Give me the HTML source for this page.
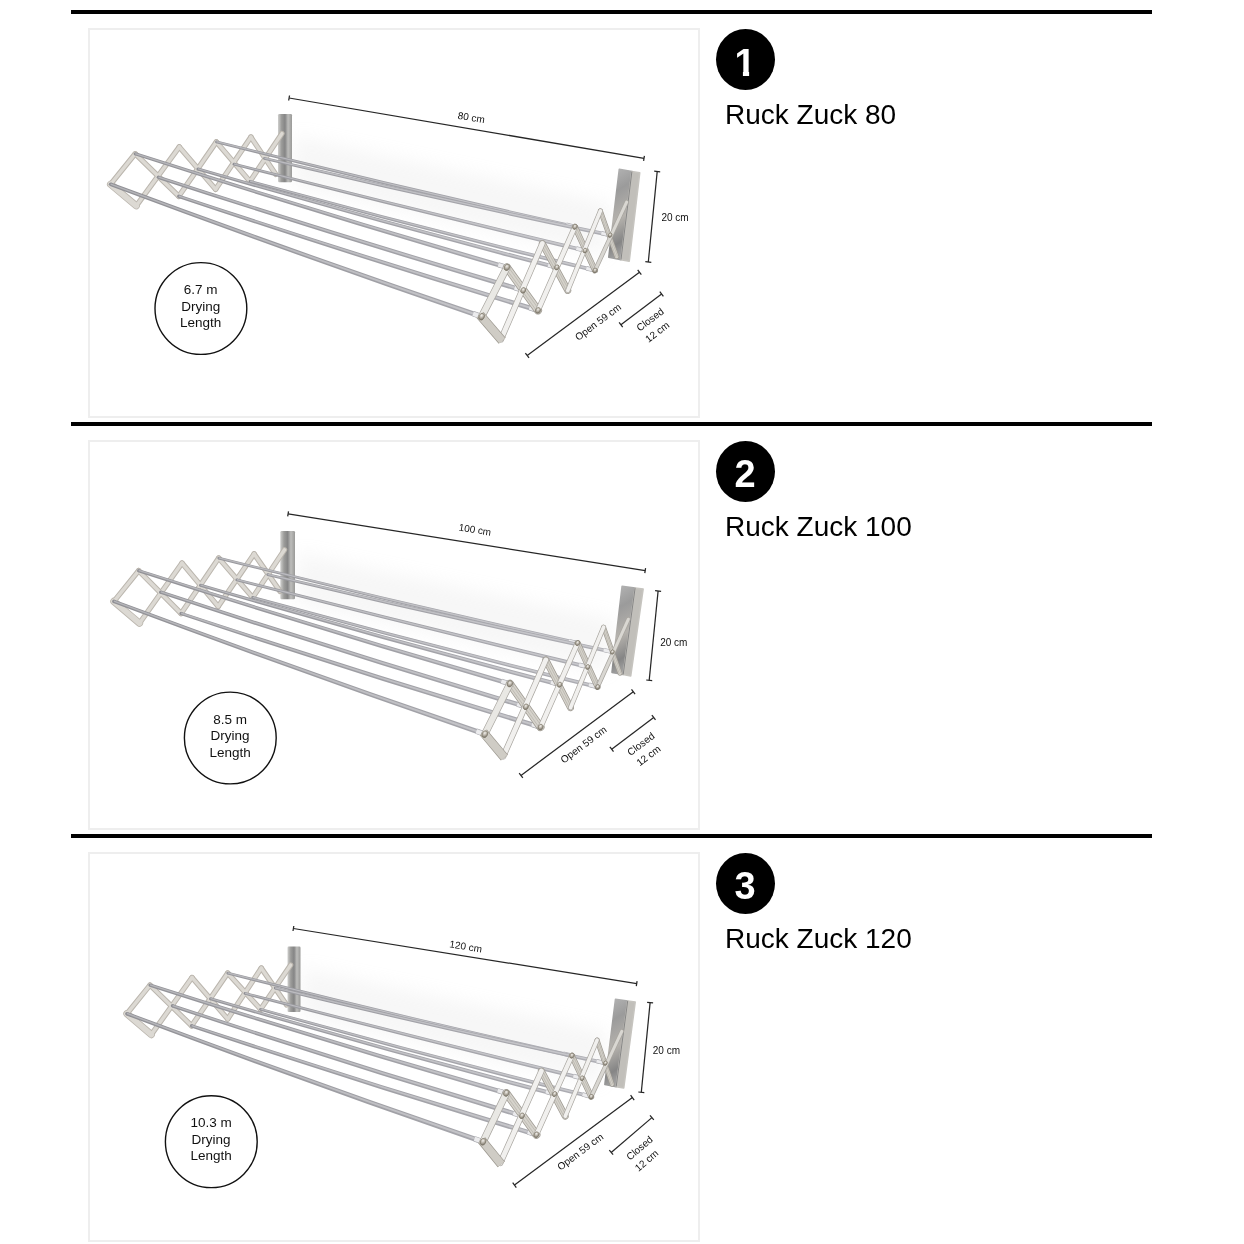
<!DOCTYPE html>
<html><head><meta charset="utf-8">
<style>
html,body{margin:0;padding:0;background:#fff;}
body{width:1244px;height:1244px;position:relative;overflow:hidden;font-family:"Liberation Sans",sans-serif;color:#000;}
.hr{position:absolute;left:71px;width:1081px;height:4px;background:#000;}
.box{position:absolute;left:88px;width:608px;height:386px;border:2px solid #eee;background:#fff;}
.num{position:absolute;left:715px;width:60px;height:62px;color:#fff;font-size:38px;font-weight:bold;line-height:66px;text-align:center;}
.num::before{content:"";position:absolute;left:0.6px;top:0.2px;width:59px;height:60.8px;border-radius:50%;background:#000;z-index:-1;}
.one{display:inline-block;position:relative;top:0.7px;clip-path:polygon(0 0,100% 0,100% 40.6px,14.7px 40.6px,14.7px 100%,8.5px 100%,8.5px 40.6px,0 40.6px);}
.ttl{position:absolute;left:725px;font-size:28px;line-height:30px;white-space:nowrap;}
svg{position:absolute;left:0;top:0;will-change:transform;}
.ttl,.num{will-change:transform;}
</style></head><body>
<div class="hr" style="top:10px"></div>
<div class="hr" style="top:422px"></div>
<div class="hr" style="top:834px"></div>
<div class="box" style="top:28px"></div>
<div class="box" style="top:440px"></div>
<div class="box" style="top:852px"></div>
<svg width="1244" height="1244" viewBox="0 0 1244 1244">
<defs>
<filter id="blur" x="-20%" y="-50%" width="140%" height="200%"><feGaussianBlur stdDeviation="9"/></filter>
<linearGradient id="lbg" x1="0" y1="0" x2="1" y2="0"><stop offset="0" stop-color="#cfcfcd"/><stop offset="0.25" stop-color="#9c9c9a"/><stop offset="0.5" stop-color="#858585"/><stop offset="0.72" stop-color="#bdbdbb"/><stop offset="1" stop-color="#9a9a98"/></linearGradient>
<linearGradient id="rbg" x1="0" y1="0" x2="0.15" y2="1"><stop offset="0" stop-color="#b6b6b6"/><stop offset="0.28" stop-color="#9b9b9b"/><stop offset="0.6" stop-color="#b5b2ad"/><stop offset="0.86" stop-color="#858585"/><stop offset="1" stop-color="#a0a0a0"/></linearGradient>
<radialGradient id="riv" cx="0.4" cy="0.35" r="0.7"><stop offset="0" stop-color="#f2f0ec"/><stop offset="0.55" stop-color="#b0aa9f"/><stop offset="1" stop-color="#6f6a60"/></radialGradient>
<linearGradient id="rod1" gradientUnits="userSpaceOnUse" x1="110" y1="0" x2="600" y2="0"><stop offset="0" stop-color="#909095"/><stop offset="1" stop-color="#adadb3"/></linearGradient>
<linearGradient id="rodh1" gradientUnits="userSpaceOnUse" x1="110" y1="0" x2="600" y2="0"><stop offset="0" stop-color="#b4b4b8"/><stop offset="1" stop-color="#c9c9cd"/></linearGradient>
</defs>
<g id="rack1">
<polygon points="294,136 612,204 604,256 294,186" fill="#cfcfcf" filter="url(#blur)" opacity="0.17"/>
<rect x="278" y="114" width="14" height="68.2" rx="1.2" fill="url(#lbg)"/>
<line x1="135.2" y1="153.8" x2="110.6" y2="184.3" stroke="#bbb6ae" stroke-width="5.4" stroke-linecap="round" />
<line x1="110.6" y1="184.3" x2="136.3" y2="205.8" stroke="#bbb6ae" stroke-width="7.2" stroke-linecap="round" />
<line x1="136.3" y1="205.8" x2="179.3" y2="146.9" stroke="#bbb6ae" stroke-width="5.4" stroke-linecap="round" />
<line x1="135.2" y1="153.8" x2="178.8" y2="196.3" stroke="#bbb6ae" stroke-width="5.4" stroke-linecap="round" />
<line x1="178.8" y1="196.3" x2="216.4" y2="141.9" stroke="#bbb6ae" stroke-width="5.4" stroke-linecap="round" />
<line x1="179.3" y1="146.9" x2="215.6" y2="189.3" stroke="#bbb6ae" stroke-width="5.4" stroke-linecap="round" />
<line x1="215.6" y1="189.3" x2="250.9" y2="137.1" stroke="#bbb6ae" stroke-width="5.4" stroke-linecap="round" />
<line x1="216.4" y1="141.9" x2="250" y2="181.4" stroke="#bbb6ae" stroke-width="5.4" stroke-linecap="round" />
<line x1="250" y1="181.4" x2="281.9" y2="133.6" stroke="#bbb6ae" stroke-width="5.4" stroke-linecap="round" />
<line x1="250.9" y1="137.1" x2="275.7" y2="174.3" stroke="#bbb6ae" stroke-width="5.4" stroke-linecap="round" />
<line x1="135.2" y1="153.8" x2="110.6" y2="184.3" stroke="#dcd9d3" stroke-width="3.4" stroke-linecap="round" />
<line x1="110.6" y1="184.3" x2="136.3" y2="205.8" stroke="#dcd9d3" stroke-width="5.6" stroke-linecap="round" />
<line x1="136.3" y1="205.8" x2="179.3" y2="146.9" stroke="#dcd9d3" stroke-width="3.4" stroke-linecap="round" />
<line x1="135.2" y1="153.8" x2="178.8" y2="196.3" stroke="#dcd9d3" stroke-width="3.4" stroke-linecap="round" />
<line x1="178.8" y1="196.3" x2="216.4" y2="141.9" stroke="#dcd9d3" stroke-width="3.4" stroke-linecap="round" />
<line x1="179.3" y1="146.9" x2="215.6" y2="189.3" stroke="#dcd9d3" stroke-width="3.4" stroke-linecap="round" />
<line x1="215.6" y1="189.3" x2="250.9" y2="137.1" stroke="#dcd9d3" stroke-width="3.4" stroke-linecap="round" />
<line x1="216.4" y1="141.9" x2="250" y2="181.4" stroke="#dcd9d3" stroke-width="3.4" stroke-linecap="round" />
<line x1="250" y1="181.4" x2="281.9" y2="133.6" stroke="#dcd9d3" stroke-width="3.4" stroke-linecap="round" />
<line x1="250.9" y1="137.1" x2="275.7" y2="174.3" stroke="#dcd9d3" stroke-width="3.4" stroke-linecap="round" />
<polygon points="619.3,169.3 631.9,171.5 621,259.6 608.8,257.2" fill="url(#rbg)" stroke="url(#rbg)" stroke-width="1.6" stroke-linejoin="round"/>
<polygon points="631.9,171.5 639.7,172.8 629.2,261.2 621,259.6" fill="#c1bfba" stroke="#c6c4bf" stroke-width="1.6" stroke-linejoin="round"/>
<line x1="631.9" y1="171.5" x2="621" y2="259.6" stroke="#7f7f7f" stroke-width="0.9" stroke-linecap="butt" />
<circle cx="216.4" cy="141.9" r="1.3" fill="#8f8f94"/>
<path d="M216.7 140.6Q396 185.2 575.3 225L574.5 228.6Q395.3 188.3 216.1 143.2Z" fill="url(#rod1)"/>
<path d="M216.6 141.1Q395.9 185.9 575.1 225.8L574.8 227.3Q395.6 187.1 216.3 142.2Z" fill="url(#rodh1)"/>
<line x1="566.1" y1="224.7" x2="574.9" y2="226.8" stroke="#b4b4b8" stroke-width="4.3" stroke-linecap="butt" />
<line x1="566.1" y1="224.7" x2="574.9" y2="226.8" stroke="#ececee" stroke-width="2.9000000000000004" stroke-linecap="butt" />
<circle cx="264.4" cy="158.4" r="1.3" fill="#8f8f94"/>
<path d="M264.7 157.1Q437.6 197.6 610.5 233.3L609.7 236.9Q436.9 200.7 264.1 159.7Z" fill="url(#rod1)"/>
<path d="M264.6 157.6Q437.4 198.3 610.3 234.1L610 235.6Q437.2 199.5 264.3 158.7Z" fill="url(#rodh1)"/>
<line x1="601.3" y1="233.2" x2="610.1" y2="235.1" stroke="#b4b4b8" stroke-width="4.3" stroke-linecap="butt" />
<line x1="601.3" y1="233.2" x2="610.1" y2="235.1" stroke="#ececee" stroke-width="2.9000000000000004" stroke-linecap="butt" />
<circle cx="234" cy="164.2" r="1.4" fill="#8f8f94"/>
<path d="M234.3 162.8Q409.9 207.2 585.5 248.7L584.5 252.5Q409.1 210.4 233.7 165.6Z" fill="url(#rod1)"/>
<path d="M234.2 163.4Q409.7 207.9 585.3 249.6L584.9 251.2Q409.4 209.2 233.9 164.5Z" fill="url(#rodh1)"/>
<line x1="576.3" y1="248.4" x2="585" y2="250.6" stroke="#b4b4b8" stroke-width="4.5" stroke-linecap="butt" />
<line x1="576.3" y1="248.4" x2="585" y2="250.6" stroke="#ececee" stroke-width="3.0999999999999996" stroke-linecap="butt" />
<circle cx="250" cy="181.4" r="1.4" fill="#8f8f94"/>
<path d="M250.4 180Q422.9 227.1 595.5 268.5L594.5 272.3Q422.1 230.3 249.6 182.8Z" fill="url(#rod1)"/>
<path d="M250.2 180.6Q422.7 227.8 595.3 269.4L594.9 271Q422.4 229.1 249.9 181.7Z" fill="url(#rodh1)"/>
<line x1="586.3" y1="268.2" x2="595" y2="270.4" stroke="#b4b4b8" stroke-width="4.5" stroke-linecap="butt" />
<line x1="586.3" y1="268.2" x2="595" y2="270.4" stroke="#ececee" stroke-width="3.0999999999999996" stroke-linecap="butt" />
<circle cx="197.9" cy="169" r="1.5" fill="#8f8f94"/>
<path d="M198.3 167.5Q377.8 219.3 557.4 265.4L556.2 269.4Q376.9 222.7 197.5 170.5Z" fill="url(#rod1)"/>
<path d="M198.1 168.2Q377.6 220 557.1 266.3L556.6 268Q377.2 221.5 197.8 169.3Z" fill="url(#rodh1)"/>
<line x1="548.1" y1="265" x2="556.8" y2="267.4" stroke="#b4b4b8" stroke-width="4.8" stroke-linecap="butt" />
<line x1="548.1" y1="265" x2="556.8" y2="267.4" stroke="#ececee" stroke-width="3.4000000000000004" stroke-linecap="butt" />
<circle cx="135.2" cy="153.8" r="1.6" fill="#8f8f94"/>
<path d="M135.7 152.3Q321.6 211.5 507.6 265.2L506.2 269.6Q320.5 215.3 134.7 155.3Z" fill="url(#rod1)"/>
<path d="M135.5 152.9Q321.4 212.4 507.2 266.3L506.7 268.1Q320.9 213.9 135.1 154.2Z" fill="url(#rodh1)"/>
<line x1="498.3" y1="264.8" x2="506.9" y2="267.4" stroke="#b4b4b8" stroke-width="5.1" stroke-linecap="butt" />
<line x1="498.3" y1="264.8" x2="506.9" y2="267.4" stroke="#ececee" stroke-width="3.7" stroke-linecap="butt" />
<circle cx="158.4" cy="177.3" r="1.7" fill="#8f8f94"/>
<path d="M158.9 175.7Q341.4 234.7 523.9 288.2L522.5 292.6Q340.2 238.6 157.9 178.9Z" fill="url(#rod1)"/>
<path d="M158.7 176.4Q341.1 235.6 523.6 289.2L523 291.1Q340.6 237.2 158.3 177.7Z" fill="url(#rodh1)"/>
<line x1="514.6" y1="287.7" x2="523.2" y2="290.4" stroke="#b4b4b8" stroke-width="5.3" stroke-linecap="butt" />
<line x1="514.6" y1="287.7" x2="523.2" y2="290.4" stroke="#ececee" stroke-width="3.9000000000000004" stroke-linecap="butt" />
<circle cx="178.8" cy="196.3" r="1.7" fill="#8f8f94"/>
<path d="M179.3 194.7Q359 254.2 538.7 308.1L537.3 312.7Q357.8 258.1 178.3 197.9Z" fill="url(#rod1)"/>
<path d="M179.1 195.4Q358.7 255.1 538.4 309.2L537.8 311.1Q358.2 256.7 178.7 196.7Z" fill="url(#rodh1)"/>
<line x1="529.4" y1="307.7" x2="538" y2="310.4" stroke="#b4b4b8" stroke-width="5.3999999999999995" stroke-linecap="butt" />
<line x1="529.4" y1="307.7" x2="538" y2="310.4" stroke="#ececee" stroke-width="4.0" stroke-linecap="butt" />
<circle cx="110.6" cy="184.3" r="1.8" fill="#8f8f94"/>
<path d="M111.2 182.6Q296.8 251.3 482.4 314.3L480.8 319.1Q295.4 255.3 110 186Z" fill="url(#rod1)"/>
<path d="M110.9 183.4Q296.5 252.2 482 315.5L481.3 317.5Q295.9 253.9 110.4 184.7Z" fill="url(#rodh1)"/>
<line x1="473.1" y1="313.7" x2="481.6" y2="316.7" stroke="#b4b4b8" stroke-width="5.6" stroke-linecap="butt" />
<line x1="473.1" y1="313.7" x2="481.6" y2="316.7" stroke="#ececee" stroke-width="4.2" stroke-linecap="butt" />
<line x1="506.9" y1="267.4" x2="538" y2="310.4" stroke="#9f9b93" stroke-width="8.0" stroke-linecap="round" />
<line x1="506.9" y1="267.4" x2="538" y2="310.4" stroke="#d6d3cc" stroke-width="6.5" stroke-linecap="round" />
<line x1="505.8" y1="268.2" x2="536.9" y2="311.2" stroke="#b5b1a9" stroke-width="0.7" stroke-linecap="round" />
<line x1="508" y1="266.6" x2="539.1" y2="309.6" stroke="#b5b1a9" stroke-width="0.7" stroke-linecap="round" />
<line x1="542.3" y1="243.5" x2="567.8" y2="290.5" stroke="#9f9b93" stroke-width="6.9" stroke-linecap="round" />
<line x1="542.3" y1="243.5" x2="567.8" y2="290.5" stroke="#d6d3cc" stroke-width="5.4" stroke-linecap="round" />
<line x1="541.3" y1="244.1" x2="566.8" y2="291.1" stroke="#b5b1a9" stroke-width="0.7" stroke-linecap="round" />
<line x1="543.3" y1="242.9" x2="568.8" y2="289.9" stroke="#b5b1a9" stroke-width="0.7" stroke-linecap="round" />
<line x1="574.9" y1="226.8" x2="595" y2="270.4" stroke="#9f9b93" stroke-width="6.0" stroke-linecap="round" />
<line x1="574.9" y1="226.8" x2="595" y2="270.4" stroke="#d6d3cc" stroke-width="4.5" stroke-linecap="round" />
<line x1="574" y1="227.2" x2="594.1" y2="270.8" stroke="#b5b1a9" stroke-width="0.7" stroke-linecap="round" />
<line x1="575.8" y1="226.4" x2="595.9" y2="270" stroke="#b5b1a9" stroke-width="0.7" stroke-linecap="round" />
<line x1="600.4" y1="210.9" x2="616.7" y2="256.6" stroke="#9f9b93" stroke-width="4.9" stroke-linecap="round" />
<line x1="600.4" y1="210.9" x2="616.7" y2="256.6" stroke="#d6d3cc" stroke-width="3.4000000000000004" stroke-linecap="round" />
<line x1="599.6" y1="211.2" x2="615.9" y2="256.9" stroke="#b5b1a9" stroke-width="0.7" stroke-linecap="round" />
<line x1="601.2" y1="210.6" x2="617.5" y2="256.3" stroke="#b5b1a9" stroke-width="0.7" stroke-linecap="round" />
<line x1="501" y1="339.4" x2="542.3" y2="243.5" stroke="#a9a6a0" stroke-width="6.2" stroke-linecap="round" />
<line x1="501" y1="339.4" x2="542.3" y2="243.5" stroke="#f1f0ee" stroke-width="4.800000000000001" stroke-linecap="round" />
<line x1="538" y1="310.4" x2="574.9" y2="226.8" stroke="#a9a6a0" stroke-width="5.7" stroke-linecap="round" />
<line x1="538" y1="310.4" x2="574.9" y2="226.8" stroke="#f1f0ee" stroke-width="4.300000000000001" stroke-linecap="round" />
<line x1="567.8" y1="290.5" x2="600.4" y2="210.9" stroke="#a9a6a0" stroke-width="5.0" stroke-linecap="round" />
<line x1="567.8" y1="290.5" x2="600.4" y2="210.9" stroke="#f1f0ee" stroke-width="3.6" stroke-linecap="round" />
<line x1="595" y1="270.4" x2="626.6" y2="202.1" stroke="#a9a6a0" stroke-width="4.4" stroke-linecap="round" />
<line x1="595" y1="270.4" x2="626.6" y2="202.1" stroke="#d9d7d2" stroke-width="3.0000000000000004" stroke-linecap="round" />
<line x1="481.6" y1="316.7" x2="506.9" y2="267.4" stroke="#a9a6a0" stroke-width="7.4" stroke-linecap="round" />
<line x1="481.6" y1="316.7" x2="506.9" y2="267.4" stroke="#e9e8e4" stroke-width="6.0" stroke-linecap="round" />
<line x1="480" y1="314.9" x2="502.2" y2="340.8" stroke="#9a968d" stroke-width="9.2" stroke-linecap="butt" />
<line x1="480" y1="314.9" x2="502.2" y2="340.8" stroke="#cfccc5" stroke-width="7.8" stroke-linecap="butt" />
<ellipse cx="481.6" cy="316.7" rx="2.7" ry="3.5" transform="rotate(28 481.6 316.7)" fill="url(#riv)" stroke="#7d7668" stroke-width="0.6"/>
<ellipse cx="506.9" cy="267.4" rx="2.6" ry="3.3" transform="rotate(28 506.9 267.4)" fill="url(#riv)" stroke="#7d7668" stroke-width="0.6"/>
<ellipse cx="523.2" cy="290.4" rx="2.3" ry="3" transform="rotate(28 523.2 290.4)" fill="url(#riv)" stroke="#7d7668" stroke-width="0.6"/>
<ellipse cx="538" cy="310.4" rx="2.3" ry="3" transform="rotate(28 538 310.4)" fill="url(#riv)" stroke="#7d7668" stroke-width="0.6"/>
<ellipse cx="556.8" cy="267.4" rx="2.1" ry="2.7" transform="rotate(28 556.8 267.4)" fill="url(#riv)" stroke="#7d7668" stroke-width="0.6"/>
<ellipse cx="574.9" cy="226.8" rx="2.1" ry="2.7" transform="rotate(28 574.9 226.8)" fill="url(#riv)" stroke="#7d7668" stroke-width="0.6"/>
<ellipse cx="585" cy="250.6" rx="2" ry="2.5" transform="rotate(28 585 250.6)" fill="url(#riv)" stroke="#7d7668" stroke-width="0.6"/>
<ellipse cx="595" cy="270.4" rx="2" ry="2.5" transform="rotate(28 595 270.4)" fill="url(#riv)" stroke="#7d7668" stroke-width="0.6"/>
<ellipse cx="610.1" cy="235.1" rx="1.8" ry="2.3" transform="rotate(28 610.1 235.1)" fill="url(#riv)" stroke="#7d7668" stroke-width="0.6"/>
<g font-family="Liberation Sans, sans-serif" fill="#111">
<line x1="289.1" y1="98" x2="644" y2="158.4" stroke="#262626" stroke-width="1.25" stroke-linecap="butt" /><line x1="289.5" y1="95.5" x2="288.7" y2="100.5" stroke="#262626" stroke-width="1.25" stroke-linecap="butt" /><line x1="644.4" y1="155.9" x2="643.6" y2="160.9" stroke="#262626" stroke-width="1.25" stroke-linecap="butt" />
<text x="471.3" y="117.5" font-size="10" text-anchor="middle" dominant-baseline="central" transform="rotate(9.7 471.3 117.5)" >80 cm</text>
<line x1="657.2" y1="171.5" x2="648.3" y2="262" stroke="#262626" stroke-width="1.25" stroke-linecap="butt" /><line x1="660.2" y1="171.8" x2="654.2" y2="171.2" stroke="#262626" stroke-width="1.25" stroke-linecap="butt" /><line x1="651.3" y1="262.3" x2="645.3" y2="261.7" stroke="#262626" stroke-width="1.25" stroke-linecap="butt" />
<text x="675" y="217" font-size="10" text-anchor="middle" dominant-baseline="central" transform="rotate(0 675 217)" >20 cm</text>
<line x1="639.5" y1="272.3" x2="527.2" y2="355.4" stroke="#262626" stroke-width="1.25" stroke-linecap="butt" /><line x1="641.3" y1="274.7" x2="637.7" y2="269.9" stroke="#262626" stroke-width="1.25" stroke-linecap="butt" /><line x1="529" y1="357.8" x2="525.4" y2="353" stroke="#262626" stroke-width="1.25" stroke-linecap="butt" />
<text x="598" y="322" font-size="10" text-anchor="middle" dominant-baseline="central" transform="rotate(-36.5 598 322)" >Open 59 cm</text>
<line x1="661.6" y1="293.9" x2="620.9" y2="324.8" stroke="#262626" stroke-width="1.25" stroke-linecap="butt" /><line x1="663.4" y1="296.3" x2="659.8" y2="291.5" stroke="#262626" stroke-width="1.25" stroke-linecap="butt" /><line x1="622.7" y1="327.2" x2="619.1" y2="322.4" stroke="#262626" stroke-width="1.25" stroke-linecap="butt" />
<text x="650.1" y="319.5" font-size="10" text-anchor="middle" dominant-baseline="central" transform="rotate(-37.2 650.1 319.5)" >Closed</text>
<text x="657.2" y="331.9" font-size="10" text-anchor="middle" dominant-baseline="central" transform="rotate(-37.2 657.2 331.9)" >12 cm</text>
<circle cx="200.9" cy="308.5" r="45.9" fill="#fff" stroke="#111" stroke-width="1.4"/>
<text x="200.7" y="289.5" font-size="13.5" text-anchor="middle" dominant-baseline="central" transform="rotate(0 200.7 289.5)" >6.7 m</text>
<text x="200.7" y="306.1" font-size="13.5" text-anchor="middle" dominant-baseline="central" transform="rotate(0 200.7 306.1)" >Drying</text>
<text x="200.7" y="322.7" font-size="13.5" text-anchor="middle" dominant-baseline="central" transform="rotate(0 200.7 322.7)" >Length</text>
</g>
</g>
<g id="rack2">
<polygon points="297,553 615,620 607,672 297,603" fill="#cfcfcf" filter="url(#blur)" opacity="0.17"/>
<rect x="280.3" y="531" width="14.7" height="68.3" rx="1.2" fill="url(#lbg)"/>
<line x1="138.6" y1="570.7" x2="113.9" y2="601.4" stroke="#bbb6ae" stroke-width="5.4" stroke-linecap="round" />
<line x1="113.9" y1="601.4" x2="139.5" y2="623.2" stroke="#bbb6ae" stroke-width="7.2" stroke-linecap="round" />
<line x1="139.5" y1="623.2" x2="182" y2="563.1" stroke="#bbb6ae" stroke-width="5.4" stroke-linecap="round" />
<line x1="138.6" y1="570.7" x2="181.1" y2="613.5" stroke="#bbb6ae" stroke-width="5.4" stroke-linecap="round" />
<line x1="181.1" y1="613.5" x2="218.7" y2="558.1" stroke="#bbb6ae" stroke-width="5.4" stroke-linecap="round" />
<line x1="182" y1="563.1" x2="218.2" y2="606.4" stroke="#bbb6ae" stroke-width="5.4" stroke-linecap="round" />
<line x1="218.2" y1="606.4" x2="254.1" y2="553.9" stroke="#bbb6ae" stroke-width="5.4" stroke-linecap="round" />
<line x1="218.7" y1="558.1" x2="252.7" y2="597.5" stroke="#bbb6ae" stroke-width="5.4" stroke-linecap="round" />
<line x1="252.7" y1="597.5" x2="284.5" y2="549.8" stroke="#bbb6ae" stroke-width="5.4" stroke-linecap="round" />
<line x1="254.1" y1="553.9" x2="280.1" y2="591.4" stroke="#bbb6ae" stroke-width="5.4" stroke-linecap="round" />
<line x1="138.6" y1="570.7" x2="113.9" y2="601.4" stroke="#dcd9d3" stroke-width="3.4" stroke-linecap="round" />
<line x1="113.9" y1="601.4" x2="139.5" y2="623.2" stroke="#dcd9d3" stroke-width="5.6" stroke-linecap="round" />
<line x1="139.5" y1="623.2" x2="182" y2="563.1" stroke="#dcd9d3" stroke-width="3.4" stroke-linecap="round" />
<line x1="138.6" y1="570.7" x2="181.1" y2="613.5" stroke="#dcd9d3" stroke-width="3.4" stroke-linecap="round" />
<line x1="181.1" y1="613.5" x2="218.7" y2="558.1" stroke="#dcd9d3" stroke-width="3.4" stroke-linecap="round" />
<line x1="182" y1="563.1" x2="218.2" y2="606.4" stroke="#dcd9d3" stroke-width="3.4" stroke-linecap="round" />
<line x1="218.2" y1="606.4" x2="254.1" y2="553.9" stroke="#dcd9d3" stroke-width="3.4" stroke-linecap="round" />
<line x1="218.7" y1="558.1" x2="252.7" y2="597.5" stroke="#dcd9d3" stroke-width="3.4" stroke-linecap="round" />
<line x1="252.7" y1="597.5" x2="284.5" y2="549.8" stroke="#dcd9d3" stroke-width="3.4" stroke-linecap="round" />
<line x1="254.1" y1="553.9" x2="280.1" y2="591.4" stroke="#dcd9d3" stroke-width="3.4" stroke-linecap="round" />
<polygon points="622.1,586.4 635.1,588.1 623.2,674.5 612,672.4" fill="url(#rbg)" stroke="url(#rbg)" stroke-width="1.6" stroke-linejoin="round"/>
<polygon points="635.1,588.1 643.1,589.1 630.7,675.9 623.2,674.5" fill="#c1bfba" stroke="#c6c4bf" stroke-width="1.6" stroke-linejoin="round"/>
<line x1="635.1" y1="588.1" x2="623.2" y2="674.5" stroke="#7f7f7f" stroke-width="0.9" stroke-linecap="butt" />
<circle cx="218.7" cy="558.1" r="1.3" fill="#8f8f94"/>
<path d="M219 556.8Q398.5 601.5 578 641.3L577.2 644.9Q397.8 604.5 218.4 559.4Z" fill="url(#rod1)"/>
<path d="M218.9 557.3Q398.4 602.1 577.8 642.1L577.5 643.6Q398.1 603.4 218.6 558.4Z" fill="url(#rodh1)"/>
<line x1="568.8" y1="641" x2="577.6" y2="643.1" stroke="#b4b4b8" stroke-width="4.3" stroke-linecap="butt" />
<line x1="568.8" y1="641" x2="577.6" y2="643.1" stroke="#ececee" stroke-width="2.9000000000000004" stroke-linecap="butt" />
<circle cx="267.7" cy="574.6" r="1.3" fill="#8f8f94"/>
<path d="M268 573.3Q440.4 614.1 612.8 650.2L612 653.8Q439.7 617.3 267.4 575.9Z" fill="url(#rod1)"/>
<path d="M267.9 573.8Q440.2 614.8 612.6 651L612.3 652.5Q440 616.1 267.6 574.9Z" fill="url(#rodh1)"/>
<line x1="603.6" y1="650" x2="612.4" y2="652" stroke="#b4b4b8" stroke-width="4.3" stroke-linecap="butt" />
<line x1="603.6" y1="650" x2="612.4" y2="652" stroke="#ececee" stroke-width="2.9000000000000004" stroke-linecap="butt" />
<circle cx="236.8" cy="579.9" r="1.4" fill="#8f8f94"/>
<path d="M237.1 578.5Q412.7 623.2 588.2 665.1L587.2 668.9Q411.8 626.5 236.5 581.3Z" fill="url(#rod1)"/>
<path d="M237 579.1Q412.5 623.9 588 666L587.6 667.6Q412.1 625.3 236.7 580.2Z" fill="url(#rodh1)"/>
<line x1="579" y1="664.8" x2="587.7" y2="667" stroke="#b4b4b8" stroke-width="4.5" stroke-linecap="butt" />
<line x1="579" y1="664.8" x2="587.7" y2="667" stroke="#ececee" stroke-width="3.0999999999999996" stroke-linecap="butt" />
<circle cx="252.7" cy="597.5" r="1.4" fill="#8f8f94"/>
<path d="M253.1 596.1Q425.6 643.4 598.1 685.1L597.1 688.9Q424.7 646.7 252.3 598.9Z" fill="url(#rod1)"/>
<path d="M252.9 596.7Q425.4 644.1 597.9 686L597.5 687.6Q425 645.5 252.6 597.8Z" fill="url(#rodh1)"/>
<line x1="588.9" y1="684.7" x2="597.6" y2="687" stroke="#b4b4b8" stroke-width="4.5" stroke-linecap="butt" />
<line x1="588.9" y1="684.7" x2="597.6" y2="687" stroke="#ececee" stroke-width="3.0999999999999996" stroke-linecap="butt" />
<circle cx="200.5" cy="585.2" r="1.5" fill="#8f8f94"/>
<path d="M200.9 583.7Q380.5 636 560.2 682.7L559 686.7Q379.6 639.5 200.1 586.7Z" fill="url(#rod1)"/>
<path d="M200.7 584.4Q380.3 636.8 559.9 683.6L559.4 685.3Q379.9 638.2 200.4 585.5Z" fill="url(#rodh1)"/>
<line x1="550.9" y1="682.3" x2="559.6" y2="684.7" stroke="#b4b4b8" stroke-width="4.8" stroke-linecap="butt" />
<line x1="550.9" y1="682.3" x2="559.6" y2="684.7" stroke="#ececee" stroke-width="3.4000000000000004" stroke-linecap="butt" />
<circle cx="138.6" cy="570.7" r="1.6" fill="#8f8f94"/>
<path d="M139.1 569.2Q324.8 628.2 510.6 681.6L509.2 686Q323.7 631.9 138.1 572.2Z" fill="url(#rod1)"/>
<path d="M138.9 569.8Q324.6 629 510.2 682.7L509.7 684.5Q324.1 630.6 138.5 571.1Z" fill="url(#rodh1)"/>
<line x1="501.3" y1="681.2" x2="509.9" y2="683.8" stroke="#b4b4b8" stroke-width="5.1" stroke-linecap="butt" />
<line x1="501.3" y1="681.2" x2="509.9" y2="683.8" stroke="#ececee" stroke-width="3.7" stroke-linecap="butt" />
<circle cx="160.7" cy="592.2" r="1.7" fill="#8f8f94"/>
<path d="M161.2 590.6Q343.9 650.4 526.5 704.6L525.1 709Q342.6 654.2 160.2 593.8Z" fill="url(#rod1)"/>
<path d="M161 591.3Q343.6 651.3 526.2 705.6L525.6 707.5Q343.1 652.9 160.6 592.6Z" fill="url(#rodh1)"/>
<line x1="517.2" y1="704.1" x2="525.8" y2="706.8" stroke="#b4b4b8" stroke-width="5.3" stroke-linecap="butt" />
<line x1="517.2" y1="704.1" x2="525.8" y2="706.8" stroke="#ececee" stroke-width="3.9000000000000004" stroke-linecap="butt" />
<circle cx="181.1" cy="613.5" r="1.7" fill="#8f8f94"/>
<path d="M181.6 611.9Q361.4 671.1 541.2 724.8L539.8 729.4Q360.2 675.1 180.6 615.1Z" fill="url(#rod1)"/>
<path d="M181.4 612.6Q361.1 672.1 540.9 725.9L540.3 727.8Q360.6 673.7 181 613.9Z" fill="url(#rodh1)"/>
<line x1="531.9" y1="724.4" x2="540.5" y2="727.1" stroke="#b4b4b8" stroke-width="5.3999999999999995" stroke-linecap="butt" />
<line x1="531.9" y1="724.4" x2="540.5" y2="727.1" stroke="#ececee" stroke-width="4.0" stroke-linecap="butt" />
<circle cx="113.9" cy="601.4" r="1.8" fill="#8f8f94"/>
<path d="M114.5 599.7Q300.1 668.6 485.6 731.8L484 736.6Q298.6 672.6 113.3 603.1Z" fill="url(#rod1)"/>
<path d="M114.2 600.5Q299.7 669.5 485.2 733L484.5 735Q299.1 671.2 113.7 601.8Z" fill="url(#rodh1)"/>
<line x1="476.3" y1="731.2" x2="484.8" y2="734.2" stroke="#b4b4b8" stroke-width="5.6" stroke-linecap="butt" />
<line x1="476.3" y1="731.2" x2="484.8" y2="734.2" stroke="#ececee" stroke-width="4.2" stroke-linecap="butt" />
<line x1="509.9" y1="683.8" x2="540.5" y2="727.1" stroke="#9f9b93" stroke-width="8.0" stroke-linecap="round" />
<line x1="509.9" y1="683.8" x2="540.5" y2="727.1" stroke="#d6d3cc" stroke-width="6.5" stroke-linecap="round" />
<line x1="508.8" y1="684.6" x2="539.4" y2="727.9" stroke="#b5b1a9" stroke-width="0.7" stroke-linecap="round" />
<line x1="511" y1="683" x2="541.6" y2="726.3" stroke="#b5b1a9" stroke-width="0.7" stroke-linecap="round" />
<line x1="545.8" y1="659.9" x2="570.5" y2="707.7" stroke="#9f9b93" stroke-width="6.9" stroke-linecap="round" />
<line x1="545.8" y1="659.9" x2="570.5" y2="707.7" stroke="#d6d3cc" stroke-width="5.4" stroke-linecap="round" />
<line x1="544.8" y1="660.4" x2="569.5" y2="708.2" stroke="#b5b1a9" stroke-width="0.7" stroke-linecap="round" />
<line x1="546.8" y1="659.4" x2="571.5" y2="707.2" stroke="#b5b1a9" stroke-width="0.7" stroke-linecap="round" />
<line x1="577.6" y1="643.1" x2="597.6" y2="687" stroke="#9f9b93" stroke-width="6.0" stroke-linecap="round" />
<line x1="577.6" y1="643.1" x2="597.6" y2="687" stroke="#d6d3cc" stroke-width="4.5" stroke-linecap="round" />
<line x1="576.7" y1="643.5" x2="596.7" y2="687.4" stroke="#b5b1a9" stroke-width="0.7" stroke-linecap="round" />
<line x1="578.5" y1="642.7" x2="598.5" y2="686.6" stroke="#b5b1a9" stroke-width="0.7" stroke-linecap="round" />
<line x1="603.6" y1="627.2" x2="620" y2="673.2" stroke="#9f9b93" stroke-width="4.9" stroke-linecap="round" />
<line x1="603.6" y1="627.2" x2="620" y2="673.2" stroke="#d6d3cc" stroke-width="3.4000000000000004" stroke-linecap="round" />
<line x1="602.8" y1="627.5" x2="619.2" y2="673.5" stroke="#b5b1a9" stroke-width="0.7" stroke-linecap="round" />
<line x1="604.4" y1="626.9" x2="620.8" y2="672.9" stroke="#b5b1a9" stroke-width="0.7" stroke-linecap="round" />
<line x1="503.3" y1="756.3" x2="545.8" y2="659.9" stroke="#a9a6a0" stroke-width="6.2" stroke-linecap="round" />
<line x1="503.3" y1="756.3" x2="545.8" y2="659.9" stroke="#f1f0ee" stroke-width="4.800000000000001" stroke-linecap="round" />
<line x1="540.5" y1="727.1" x2="577.6" y2="643.1" stroke="#a9a6a0" stroke-width="5.7" stroke-linecap="round" />
<line x1="540.5" y1="727.1" x2="577.6" y2="643.1" stroke="#f1f0ee" stroke-width="4.300000000000001" stroke-linecap="round" />
<line x1="570.5" y1="707.7" x2="603.6" y2="627.2" stroke="#a9a6a0" stroke-width="5.0" stroke-linecap="round" />
<line x1="570.5" y1="707.7" x2="603.6" y2="627.2" stroke="#f1f0ee" stroke-width="3.6" stroke-linecap="round" />
<line x1="597.6" y1="687" x2="628.4" y2="619.2" stroke="#a9a6a0" stroke-width="4.4" stroke-linecap="round" />
<line x1="597.6" y1="687" x2="628.4" y2="619.2" stroke="#d9d7d2" stroke-width="3.0000000000000004" stroke-linecap="round" />
<line x1="484.8" y1="734.2" x2="509.9" y2="683.8" stroke="#a9a6a0" stroke-width="7.4" stroke-linecap="round" />
<line x1="484.8" y1="734.2" x2="509.9" y2="683.8" stroke="#e9e8e4" stroke-width="6.0" stroke-linecap="round" />
<line x1="483.3" y1="732.4" x2="504.4" y2="757.6" stroke="#9a968d" stroke-width="9.2" stroke-linecap="butt" />
<line x1="483.3" y1="732.4" x2="504.4" y2="757.6" stroke="#cfccc5" stroke-width="7.8" stroke-linecap="butt" />
<ellipse cx="484.8" cy="734.2" rx="2.7" ry="3.5" transform="rotate(28 484.8 734.2)" fill="url(#riv)" stroke="#7d7668" stroke-width="0.6"/>
<ellipse cx="509.9" cy="683.8" rx="2.6" ry="3.3" transform="rotate(28 509.9 683.8)" fill="url(#riv)" stroke="#7d7668" stroke-width="0.6"/>
<ellipse cx="525.8" cy="706.8" rx="2.3" ry="3" transform="rotate(28 525.8 706.8)" fill="url(#riv)" stroke="#7d7668" stroke-width="0.6"/>
<ellipse cx="540.5" cy="727.1" rx="2.3" ry="3" transform="rotate(28 540.5 727.1)" fill="url(#riv)" stroke="#7d7668" stroke-width="0.6"/>
<ellipse cx="559.6" cy="684.7" rx="2.1" ry="2.7" transform="rotate(28 559.6 684.7)" fill="url(#riv)" stroke="#7d7668" stroke-width="0.6"/>
<ellipse cx="577.6" cy="643.1" rx="2.1" ry="2.7" transform="rotate(28 577.6 643.1)" fill="url(#riv)" stroke="#7d7668" stroke-width="0.6"/>
<ellipse cx="587.7" cy="667" rx="2" ry="2.5" transform="rotate(28 587.7 667)" fill="url(#riv)" stroke="#7d7668" stroke-width="0.6"/>
<ellipse cx="597.6" cy="687" rx="2" ry="2.5" transform="rotate(28 597.6 687)" fill="url(#riv)" stroke="#7d7668" stroke-width="0.6"/>
<ellipse cx="612.4" cy="652" rx="1.8" ry="2.3" transform="rotate(28 612.4 652)" fill="url(#riv)" stroke="#7d7668" stroke-width="0.6"/>
<g font-family="Liberation Sans, sans-serif" fill="#111">
<line x1="288.1" y1="513.8" x2="645.2" y2="570.6" stroke="#262626" stroke-width="1.25" stroke-linecap="butt" /><line x1="288.5" y1="511.3" x2="287.7" y2="516.3" stroke="#262626" stroke-width="1.25" stroke-linecap="butt" /><line x1="645.6" y1="568.1" x2="644.8" y2="573.1" stroke="#262626" stroke-width="1.25" stroke-linecap="butt" />
<text x="474.9" y="529.7" font-size="10" text-anchor="middle" dominant-baseline="central" transform="rotate(9 474.9 529.7)" >100 cm</text>
<line x1="658.1" y1="591" x2="649.2" y2="680.3" stroke="#262626" stroke-width="1.25" stroke-linecap="butt" /><line x1="661.1" y1="591.3" x2="655.1" y2="590.7" stroke="#262626" stroke-width="1.25" stroke-linecap="butt" /><line x1="652.2" y1="680.6" x2="646.2" y2="680" stroke="#262626" stroke-width="1.25" stroke-linecap="butt" />
<text x="673.8" y="642.2" font-size="10" text-anchor="middle" dominant-baseline="central" transform="rotate(0 673.8 642.2)" >20 cm</text>
<line x1="633.3" y1="691.8" x2="521" y2="775.4" stroke="#262626" stroke-width="1.25" stroke-linecap="butt" /><line x1="635.1" y1="694.2" x2="631.5" y2="689.4" stroke="#262626" stroke-width="1.25" stroke-linecap="butt" /><line x1="522.8" y1="777.8" x2="519.2" y2="773" stroke="#262626" stroke-width="1.25" stroke-linecap="butt" />
<text x="583.6" y="744.6" font-size="10" text-anchor="middle" dominant-baseline="central" transform="rotate(-36.7 583.6 744.6)" >Open 59 cm</text>
<line x1="653.7" y1="717.4" x2="611.7" y2="749.2" stroke="#262626" stroke-width="1.25" stroke-linecap="butt" /><line x1="655.5" y1="719.8" x2="651.9" y2="715" stroke="#262626" stroke-width="1.25" stroke-linecap="butt" /><line x1="613.5" y1="751.6" x2="609.9" y2="746.8" stroke="#262626" stroke-width="1.25" stroke-linecap="butt" />
<text x="640.9" y="744" font-size="10" text-anchor="middle" dominant-baseline="central" transform="rotate(-37.1 640.9 744)" >Closed</text>
<text x="648.4" y="755.6" font-size="10" text-anchor="middle" dominant-baseline="central" transform="rotate(-37.1 648.4 755.6)" >12 cm</text>
<circle cx="230.3" cy="738" r="45.9" fill="#fff" stroke="#111" stroke-width="1.4"/>
<text x="230.1" y="719" font-size="13.5" text-anchor="middle" dominant-baseline="central" transform="rotate(0 230.1 719)" >8.5 m</text>
<text x="230.1" y="735.6" font-size="13.5" text-anchor="middle" dominant-baseline="central" transform="rotate(0 230.1 735.6)" >Drying</text>
<text x="230.1" y="752.2" font-size="13.5" text-anchor="middle" dominant-baseline="central" transform="rotate(0 230.1 752.2)" >Length</text>
</g>
</g>
<g id="rack3">
<polygon points="302,968 608,1032 600,1084 302,1016" fill="#cfcfcf" filter="url(#blur)" opacity="0.17"/>
<rect x="287.5" y="946.5" width="13" height="65.5" rx="1.2" fill="url(#lbg)"/>
<line x1="150" y1="985.1" x2="126.9" y2="1013.7" stroke="#bbb6ae" stroke-width="5.4" stroke-linecap="round" />
<line x1="126.9" y1="1013.7" x2="151.3" y2="1034.6" stroke="#bbb6ae" stroke-width="7.2" stroke-linecap="round" />
<line x1="151.3" y1="1034.6" x2="192" y2="977.5" stroke="#bbb6ae" stroke-width="5.4" stroke-linecap="round" />
<line x1="150" y1="985.1" x2="191.6" y2="1025.8" stroke="#bbb6ae" stroke-width="5.4" stroke-linecap="round" />
<line x1="191.6" y1="1025.8" x2="227.7" y2="973.1" stroke="#bbb6ae" stroke-width="5.4" stroke-linecap="round" />
<line x1="192" y1="977.5" x2="227.7" y2="1019" stroke="#bbb6ae" stroke-width="5.4" stroke-linecap="round" />
<line x1="227.7" y1="1019" x2="261.3" y2="968.1" stroke="#bbb6ae" stroke-width="5.4" stroke-linecap="round" />
<line x1="227.7" y1="973.1" x2="260.6" y2="1009.3" stroke="#bbb6ae" stroke-width="5.4" stroke-linecap="round" />
<line x1="260.6" y1="1009.3" x2="290.6" y2="965.1" stroke="#bbb6ae" stroke-width="5.4" stroke-linecap="round" />
<line x1="261.3" y1="968.1" x2="286.6" y2="1004.9" stroke="#bbb6ae" stroke-width="5.4" stroke-linecap="round" />
<line x1="150" y1="985.1" x2="126.9" y2="1013.7" stroke="#dcd9d3" stroke-width="3.4" stroke-linecap="round" />
<line x1="126.9" y1="1013.7" x2="151.3" y2="1034.6" stroke="#dcd9d3" stroke-width="5.6" stroke-linecap="round" />
<line x1="151.3" y1="1034.6" x2="192" y2="977.5" stroke="#dcd9d3" stroke-width="3.4" stroke-linecap="round" />
<line x1="150" y1="985.1" x2="191.6" y2="1025.8" stroke="#dcd9d3" stroke-width="3.4" stroke-linecap="round" />
<line x1="191.6" y1="1025.8" x2="227.7" y2="973.1" stroke="#dcd9d3" stroke-width="3.4" stroke-linecap="round" />
<line x1="192" y1="977.5" x2="227.7" y2="1019" stroke="#dcd9d3" stroke-width="3.4" stroke-linecap="round" />
<line x1="227.7" y1="1019" x2="261.3" y2="968.1" stroke="#dcd9d3" stroke-width="3.4" stroke-linecap="round" />
<line x1="227.7" y1="973.1" x2="260.6" y2="1009.3" stroke="#dcd9d3" stroke-width="3.4" stroke-linecap="round" />
<line x1="260.6" y1="1009.3" x2="290.6" y2="965.1" stroke="#dcd9d3" stroke-width="3.4" stroke-linecap="round" />
<line x1="261.3" y1="968.1" x2="286.6" y2="1004.9" stroke="#dcd9d3" stroke-width="3.4" stroke-linecap="round" />
<polygon points="615.5,999.4 627.7,1001 616.2,1086.6 604.9,1084.4" fill="url(#rbg)" stroke="url(#rbg)" stroke-width="1.6" stroke-linejoin="round"/>
<polygon points="627.7,1001 635.2,1002 623.7,1088 616.2,1086.6" fill="#c1bfba" stroke="#c6c4bf" stroke-width="1.6" stroke-linejoin="round"/>
<line x1="627.7" y1="1001" x2="616.2" y2="1086.6" stroke="#7f7f7f" stroke-width="0.9" stroke-linecap="butt" />
<circle cx="227.7" cy="973.1" r="1.3" fill="#8f8f94"/>
<path d="M228 971.8Q400.2 1015.3 572.3 1053.9L571.5 1057.5Q399.4 1018.3 227.4 974.4Z" fill="url(#rod1)"/>
<path d="M227.9 972.3Q400 1015.9 572.1 1054.7L571.8 1056.2Q399.7 1017.2 227.6 973.4Z" fill="url(#rodh1)"/>
<line x1="563.1" y1="1053.6" x2="571.9" y2="1055.7" stroke="#b4b4b8" stroke-width="4.3" stroke-linecap="butt" />
<line x1="563.1" y1="1053.6" x2="571.9" y2="1055.7" stroke="#ececee" stroke-width="2.9000000000000004" stroke-linecap="butt" />
<circle cx="275.1" cy="988.1" r="1.3" fill="#8f8f94"/>
<path d="M275.4 986.8Q440.6 1026.4 605.8 1061.3L605 1064.9Q439.9 1029.6 274.8 989.4Z" fill="url(#rod1)"/>
<path d="M275.3 987.3Q440.5 1027.1 605.6 1062.1L605.3 1063.6Q440.2 1028.4 275 988.4Z" fill="url(#rodh1)"/>
<line x1="596.6" y1="1061.1" x2="605.4" y2="1063.1" stroke="#b4b4b8" stroke-width="4.3" stroke-linecap="butt" />
<line x1="596.6" y1="1061.1" x2="605.4" y2="1063.1" stroke="#ececee" stroke-width="2.9000000000000004" stroke-linecap="butt" />
<circle cx="245" cy="993.4" r="1.4" fill="#8f8f94"/>
<path d="M245.3 992Q413.9 1035.6 582.5 1076.3L581.5 1080.1Q413.1 1038.8 244.7 994.8Z" fill="url(#rod1)"/>
<path d="M245.2 992.6Q413.7 1036.3 582.3 1077.2L581.9 1078.8Q413.4 1037.6 244.9 993.7Z" fill="url(#rodh1)"/>
<line x1="573.3" y1="1076" x2="582" y2="1078.2" stroke="#b4b4b8" stroke-width="4.5" stroke-linecap="butt" />
<line x1="573.3" y1="1076" x2="582" y2="1078.2" stroke="#ececee" stroke-width="3.0999999999999996" stroke-linecap="butt" />
<circle cx="260.6" cy="1009.3" r="1.4" fill="#8f8f94"/>
<path d="M261 1007.9Q426.3 1054.2 591.7 1094.8L590.7 1098.6Q425.5 1057.4 260.2 1010.7Z" fill="url(#rod1)"/>
<path d="M260.8 1008.5Q426.1 1054.9 591.5 1095.7L591.1 1097.3Q425.8 1056.2 260.5 1009.6Z" fill="url(#rodh1)"/>
<line x1="582.5" y1="1094.4" x2="591.2" y2="1096.7" stroke="#b4b4b8" stroke-width="4.5" stroke-linecap="butt" />
<line x1="582.5" y1="1094.4" x2="591.2" y2="1096.7" stroke="#ececee" stroke-width="3.0999999999999996" stroke-linecap="butt" />
<circle cx="210.5" cy="998.7" r="1.5" fill="#8f8f94"/>
<path d="M210.9 997.2Q383 1047.5 555.2 1092.1L554 1096.1Q382.1 1050.9 210.1 1000.2Z" fill="url(#rod1)"/>
<path d="M210.7 997.9Q382.8 1048.2 554.9 1093L554.4 1094.7Q382.4 1049.7 210.4 999Z" fill="url(#rodh1)"/>
<line x1="545.9" y1="1091.7" x2="554.6" y2="1094.1" stroke="#b4b4b8" stroke-width="4.8" stroke-linecap="butt" />
<line x1="545.9" y1="1091.7" x2="554.6" y2="1094.1" stroke="#ececee" stroke-width="3.4000000000000004" stroke-linecap="butt" />
<circle cx="150" cy="985.1" r="1.6" fill="#8f8f94"/>
<path d="M150.5 983.5Q328.7 1040.1 507 1091L505.6 1095.4Q327.6 1043.8 149.5 986.7Z" fill="url(#rod1)"/>
<path d="M150.3 984.2Q328.5 1040.9 506.6 1092.1L506.1 1093.9Q328 1042.5 149.9 985.5Z" fill="url(#rodh1)"/>
<line x1="497.7" y1="1090.6" x2="506.3" y2="1093.2" stroke="#b4b4b8" stroke-width="5.1" stroke-linecap="butt" />
<line x1="497.7" y1="1090.6" x2="506.3" y2="1093.2" stroke="#ececee" stroke-width="3.7" stroke-linecap="butt" />
<circle cx="172.5" cy="1005.8" r="1.7" fill="#8f8f94"/>
<path d="M173 1004.2Q347.8 1061.7 522.6 1113.6L521.2 1118Q346.6 1065.5 172 1007.4Z" fill="url(#rod1)"/>
<path d="M172.8 1004.9Q347.5 1062.6 522.3 1114.6L521.7 1116.5Q347 1064.2 172.4 1006.2Z" fill="url(#rodh1)"/>
<line x1="513.3" y1="1113.1" x2="521.9" y2="1115.8" stroke="#b4b4b8" stroke-width="5.3" stroke-linecap="butt" />
<line x1="513.3" y1="1113.1" x2="521.9" y2="1115.8" stroke="#ececee" stroke-width="3.9000000000000004" stroke-linecap="butt" />
<circle cx="191.6" cy="1025.8" r="1.7" fill="#8f8f94"/>
<path d="M192.1 1024.2Q364.6 1081.1 537.1 1132.4L535.7 1137Q363.4 1085 191.1 1027.4Z" fill="url(#rod1)"/>
<path d="M191.9 1024.9Q364.3 1082 536.8 1133.5L536.2 1135.4Q363.8 1083.6 191.5 1026.2Z" fill="url(#rodh1)"/>
<line x1="527.8" y1="1132" x2="536.4" y2="1134.7" stroke="#b4b4b8" stroke-width="5.3999999999999995" stroke-linecap="butt" />
<line x1="527.8" y1="1132" x2="536.4" y2="1134.7" stroke="#ececee" stroke-width="4.0" stroke-linecap="butt" />
<circle cx="126.9" cy="1013.7" r="1.8" fill="#8f8f94"/>
<path d="M127.5 1012Q305.7 1078.5 483.8 1139.4L482.2 1144.2Q304.2 1082.6 126.3 1015.4Z" fill="url(#rod1)"/>
<path d="M127.2 1012.8Q305.3 1079.5 483.4 1140.6L482.7 1142.6Q304.7 1081.1 126.7 1014.1Z" fill="url(#rodh1)"/>
<line x1="474.5" y1="1138.8" x2="483" y2="1141.8" stroke="#b4b4b8" stroke-width="5.6" stroke-linecap="butt" />
<line x1="474.5" y1="1138.8" x2="483" y2="1141.8" stroke="#ececee" stroke-width="4.2" stroke-linecap="butt" />
<line x1="506.3" y1="1093.2" x2="536.4" y2="1134.7" stroke="#9f9b93" stroke-width="8.0" stroke-linecap="round" />
<line x1="506.3" y1="1093.2" x2="536.4" y2="1134.7" stroke="#d6d3cc" stroke-width="6.5" stroke-linecap="round" />
<line x1="505.2" y1="1094" x2="535.3" y2="1135.5" stroke="#b5b1a9" stroke-width="0.7" stroke-linecap="round" />
<line x1="507.4" y1="1092.4" x2="537.5" y2="1133.9" stroke="#b5b1a9" stroke-width="0.7" stroke-linecap="round" />
<line x1="541.4" y1="1071.1" x2="565.2" y2="1116.2" stroke="#9f9b93" stroke-width="6.9" stroke-linecap="round" />
<line x1="541.4" y1="1071.1" x2="565.2" y2="1116.2" stroke="#d6d3cc" stroke-width="5.4" stroke-linecap="round" />
<line x1="540.4" y1="1071.6" x2="564.2" y2="1116.7" stroke="#b5b1a9" stroke-width="0.7" stroke-linecap="round" />
<line x1="542.4" y1="1070.6" x2="566.2" y2="1115.7" stroke="#b5b1a9" stroke-width="0.7" stroke-linecap="round" />
<line x1="571.9" y1="1055.7" x2="591.2" y2="1096.7" stroke="#9f9b93" stroke-width="6.0" stroke-linecap="round" />
<line x1="571.9" y1="1055.7" x2="591.2" y2="1096.7" stroke="#d6d3cc" stroke-width="4.5" stroke-linecap="round" />
<line x1="571" y1="1056.1" x2="590.3" y2="1097.1" stroke="#b5b1a9" stroke-width="0.7" stroke-linecap="round" />
<line x1="572.8" y1="1055.3" x2="592.1" y2="1096.3" stroke="#b5b1a9" stroke-width="0.7" stroke-linecap="round" />
<line x1="597.1" y1="1040.1" x2="612.1" y2="1084.3" stroke="#9f9b93" stroke-width="4.9" stroke-linecap="round" />
<line x1="597.1" y1="1040.1" x2="612.1" y2="1084.3" stroke="#d6d3cc" stroke-width="3.4000000000000004" stroke-linecap="round" />
<line x1="596.3" y1="1040.4" x2="611.3" y2="1084.6" stroke="#b5b1a9" stroke-width="0.7" stroke-linecap="round" />
<line x1="597.9" y1="1039.8" x2="612.9" y2="1084" stroke="#b5b1a9" stroke-width="0.7" stroke-linecap="round" />
<line x1="500.3" y1="1163" x2="541.4" y2="1071.1" stroke="#a9a6a0" stroke-width="6.2" stroke-linecap="round" />
<line x1="500.3" y1="1163" x2="541.4" y2="1071.1" stroke="#f1f0ee" stroke-width="4.800000000000001" stroke-linecap="round" />
<line x1="536.4" y1="1134.7" x2="571.9" y2="1055.7" stroke="#a9a6a0" stroke-width="5.7" stroke-linecap="round" />
<line x1="536.4" y1="1134.7" x2="571.9" y2="1055.7" stroke="#f1f0ee" stroke-width="4.300000000000001" stroke-linecap="round" />
<line x1="565.2" y1="1116.2" x2="597.1" y2="1040.1" stroke="#a9a6a0" stroke-width="5.0" stroke-linecap="round" />
<line x1="565.2" y1="1116.2" x2="597.1" y2="1040.1" stroke="#f1f0ee" stroke-width="3.6" stroke-linecap="round" />
<line x1="591.2" y1="1096.7" x2="621.8" y2="1031.3" stroke="#a9a6a0" stroke-width="4.4" stroke-linecap="round" />
<line x1="591.2" y1="1096.7" x2="621.8" y2="1031.3" stroke="#d9d7d2" stroke-width="3.0000000000000004" stroke-linecap="round" />
<line x1="483" y1="1141.8" x2="506.3" y2="1093.2" stroke="#a9a6a0" stroke-width="7.4" stroke-linecap="round" />
<line x1="483" y1="1141.8" x2="506.3" y2="1093.2" stroke="#e9e8e4" stroke-width="6.0" stroke-linecap="round" />
<line x1="481.6" y1="1140.1" x2="501.3" y2="1164.3" stroke="#9a968d" stroke-width="9.2" stroke-linecap="butt" />
<line x1="481.6" y1="1140.1" x2="501.3" y2="1164.3" stroke="#cfccc5" stroke-width="7.8" stroke-linecap="butt" />
<ellipse cx="483" cy="1141.8" rx="2.7" ry="3.5" transform="rotate(28 483 1141.8)" fill="url(#riv)" stroke="#7d7668" stroke-width="0.6"/>
<ellipse cx="506.3" cy="1093.2" rx="2.6" ry="3.3" transform="rotate(28 506.3 1093.2)" fill="url(#riv)" stroke="#7d7668" stroke-width="0.6"/>
<ellipse cx="521.9" cy="1115.8" rx="2.3" ry="3" transform="rotate(28 521.9 1115.8)" fill="url(#riv)" stroke="#7d7668" stroke-width="0.6"/>
<ellipse cx="536.4" cy="1134.7" rx="2.3" ry="3" transform="rotate(28 536.4 1134.7)" fill="url(#riv)" stroke="#7d7668" stroke-width="0.6"/>
<ellipse cx="554.6" cy="1094.1" rx="2.1" ry="2.7" transform="rotate(28 554.6 1094.1)" fill="url(#riv)" stroke="#7d7668" stroke-width="0.6"/>
<ellipse cx="571.9" cy="1055.7" rx="2.1" ry="2.7" transform="rotate(28 571.9 1055.7)" fill="url(#riv)" stroke="#7d7668" stroke-width="0.6"/>
<ellipse cx="582" cy="1078.2" rx="2" ry="2.5" transform="rotate(28 582 1078.2)" fill="url(#riv)" stroke="#7d7668" stroke-width="0.6"/>
<ellipse cx="591.2" cy="1096.7" rx="2" ry="2.5" transform="rotate(28 591.2 1096.7)" fill="url(#riv)" stroke="#7d7668" stroke-width="0.6"/>
<ellipse cx="605.4" cy="1063.1" rx="1.8" ry="2.3" transform="rotate(28 605.4 1063.1)" fill="url(#riv)" stroke="#7d7668" stroke-width="0.6"/>
<g font-family="Liberation Sans, sans-serif" fill="#111">
<line x1="293.4" y1="928.5" x2="636.7" y2="983.6" stroke="#262626" stroke-width="1.25" stroke-linecap="butt" /><line x1="293.8" y1="926" x2="293" y2="931" stroke="#262626" stroke-width="1.25" stroke-linecap="butt" /><line x1="637.1" y1="981.1" x2="636.3" y2="986.1" stroke="#262626" stroke-width="1.25" stroke-linecap="butt" />
<text x="465.8" y="946.5" font-size="10" text-anchor="middle" dominant-baseline="central" transform="rotate(9.1 465.8 946.5)" >120 cm</text>
<line x1="650.1" y1="1002.6" x2="641.3" y2="1092.3" stroke="#262626" stroke-width="1.25" stroke-linecap="butt" /><line x1="653.1" y1="1002.9" x2="647.1" y2="1002.3" stroke="#262626" stroke-width="1.25" stroke-linecap="butt" /><line x1="644.3" y1="1092.6" x2="638.3" y2="1092" stroke="#262626" stroke-width="1.25" stroke-linecap="butt" />
<text x="666.4" y="1050" font-size="10" text-anchor="middle" dominant-baseline="central" transform="rotate(0 666.4 1050)" >20 cm</text>
<line x1="632.4" y1="1097.6" x2="514.5" y2="1185.1" stroke="#262626" stroke-width="1.25" stroke-linecap="butt" /><line x1="634.2" y1="1100" x2="630.6" y2="1095.2" stroke="#262626" stroke-width="1.25" stroke-linecap="butt" /><line x1="516.3" y1="1187.5" x2="512.7" y2="1182.7" stroke="#262626" stroke-width="1.25" stroke-linecap="butt" />
<text x="580.3" y="1151.6" font-size="10" text-anchor="middle" dominant-baseline="central" transform="rotate(-36.6 580.3 1151.6)" >Open 59 cm</text>
<line x1="651.9" y1="1117.6" x2="611.2" y2="1152.4" stroke="#262626" stroke-width="1.25" stroke-linecap="butt" /><line x1="653.8" y1="1119.9" x2="650" y2="1115.3" stroke="#262626" stroke-width="1.25" stroke-linecap="butt" /><line x1="613.1" y1="1154.7" x2="609.3" y2="1150.1" stroke="#262626" stroke-width="1.25" stroke-linecap="butt" />
<text x="639.5" y="1148" font-size="10" text-anchor="middle" dominant-baseline="central" transform="rotate(-40.5 639.5 1148)" >Closed</text>
<text x="646.6" y="1160.4" font-size="10" text-anchor="middle" dominant-baseline="central" transform="rotate(-40.5 646.6 1160.4)" >12 cm</text>
<circle cx="211.3" cy="1141.7" r="45.9" fill="#fff" stroke="#111" stroke-width="1.4"/>
<text x="211.1" y="1122.7" font-size="13.5" text-anchor="middle" dominant-baseline="central" transform="rotate(0 211.1 1122.7)" >10.3 m</text>
<text x="211.1" y="1139.3" font-size="13.5" text-anchor="middle" dominant-baseline="central" transform="rotate(0 211.1 1139.3)" >Drying</text>
<text x="211.1" y="1155.9" font-size="13.5" text-anchor="middle" dominant-baseline="central" transform="rotate(0 211.1 1155.9)" >Length</text>
</g>
</g>
</svg>
<div class="num" style="top:29px"><span class="one">1</span></div>
<div class="num" style="top:441px">2</div>
<div class="num" style="top:853px">3</div>
<div class="ttl" style="top:100px">Ruck Zuck 80</div>
<div class="ttl" style="top:512px">Ruck Zuck 100</div>
<div class="ttl" style="top:924px">Ruck Zuck 120</div>
</body></html>
